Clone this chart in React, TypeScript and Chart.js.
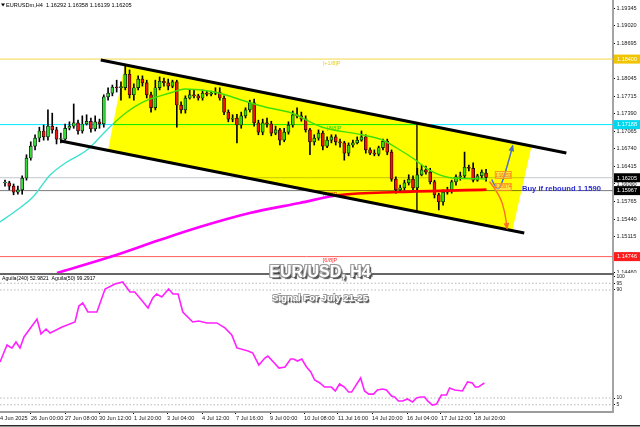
import React, { useEffect, useRef } from 'react';
import { Chart, registerables } from 'chart.js';
Chart.register(...registerables);

// ---------- axis ranges ----------
const X_MIN = -1.164;
const X_MAX = 141.56;
const P_MIN = 1.14443;
const P_MAX = 1.19493;
const IND_MIN = -0.37;
const IND_MAX = 101.11;

// ---------- tick labels ----------
const priceTicks = [1.19345, 1.1902, 1.18695, 1.1837, 1.18045, 1.17715, 1.1739, 1.17065, 1.1674, 1.16415, 1.1609, 1.15765, 1.1544, 1.15115, 1.1479, 1.1446];
const indTicks = [100, 95, 90, 10, 5];
const timeTickPos = [-1.9, 6.05, 13.97, 21.89, 30.03, 37.72, 45.87, 53.78, 61.7, 69.62, 77.53, 85.45, 93.6, 101.5, 109.4];
const timeTickLabels = ['24 Jun 2025', '26 Jun 00:00', '27 Jun 08:00', '30 Jun 12:00', '1 Jul 20:00', '3 Jul 04:00', '4 Jul 12:00', '7 Jul 16:00', '9 Jul 00:00', '10 Jul 08:00', '11 Jul 16:00', '14 Jul 20:00', '16 Jul 04:00', '17 Jul 12:00', '18 Jul 20:00'];

// ---------- candles (EURUSD H4) ----------
const opens = [
  1.1611, 1.1611, 1.1605, 1.1594, 1.1598, 1.1620, 1.1657, 1.1679, 1.1694, 1.1707,
  1.1696, 1.1716, 1.1709, 1.1692, 1.1692, 1.1712, 1.1716, 1.1722, 1.1707, 1.1720,
  1.1725, 1.1711, 1.1724, 1.1720, 1.1770, 1.1777, 1.1788, 1.1787, 1.1787, 1.1812,
  1.1774, 1.1787, 1.1803, 1.1796, 1.1774, 1.1750, 1.1787, 1.1799, 1.1796, 1.1790,
  1.1798, 1.1755, 1.1746, 1.1768, 1.1774, 1.1772, 1.1768, 1.1777, 1.1775, 1.1777,
  1.1779, 1.1768, 1.1742, 1.1729, 1.1731, 1.1718, 1.1735, 1.1746, 1.1759, 1.1722,
  1.1705, 1.1722, 1.1720, 1.1703, 1.1709, 1.1690, 1.1705, 1.1718, 1.1737, 1.1735,
  1.1729, 1.1709, 1.1687, 1.1694, 1.1703, 1.1679, 1.1690, 1.1696, 1.1687, 1.1685,
  1.1666, 1.1681, 1.1685, 1.1690, 1.1696, 1.1672, 1.1666, 1.1664, 1.1676, 1.1688,
  1.1668, 1.1618, 1.1598, 1.1602, 1.1611, 1.1618, 1.1602, 1.1626, 1.1635, 1.1631,
  1.1613, 1.1589, 1.1576, 1.1594, 1.1598, 1.1613, 1.1622, 1.1624, 1.1640, 1.1638,
  1.1616, 1.1624, 1.1629,
];
const highs = [
  1.1616, 1.1614, 1.1609, 1.1605, 1.1624, 1.1663, 1.1687, 1.1700, 1.1714, 1.1718,
  1.1746, 1.1740, 1.1714, 1.1703, 1.1720, 1.1724, 1.1757, 1.1727, 1.1735, 1.1737,
  1.1731, 1.1735, 1.1729, 1.1774, 1.1787, 1.1792, 1.1801, 1.1798, 1.1827, 1.1820,
  1.1794, 1.1809, 1.1809, 1.1801, 1.1779, 1.1801, 1.1807, 1.1805, 1.1803, 1.1801,
  1.1801, 1.1761, 1.1772, 1.1783, 1.1783, 1.1775, 1.1783, 1.1781, 1.1781, 1.1787,
  1.1787, 1.1772, 1.1746, 1.1737, 1.1738, 1.1742, 1.1750, 1.1764, 1.1766, 1.1727,
  1.1729, 1.1731, 1.1725, 1.1716, 1.1712, 1.1712, 1.1724, 1.1744, 1.1750, 1.1742,
  1.1735, 1.1712, 1.1700, 1.1709, 1.1707, 1.1696, 1.1700, 1.1700, 1.1692, 1.1688,
  1.1685, 1.1690, 1.1696, 1.1707, 1.1700, 1.1676, 1.1672, 1.1679, 1.1692, 1.1692,
  1.1672, 1.1622, 1.1607, 1.1616, 1.1626, 1.1624, 1.1638, 1.1644, 1.1642, 1.1638,
  1.1616, 1.1592, 1.1598, 1.1603, 1.1616, 1.1626, 1.1631, 1.1668, 1.1644, 1.1648,
  1.1627, 1.1635, 1.1636,
];
const lows = [
  1.1605, 1.1598, 1.1589, 1.1590, 1.1590, 1.1616, 1.1653, 1.1672, 1.1687, 1.1690,
  1.1690, 1.1703, 1.1683, 1.1685, 1.1690, 1.1709, 1.1712, 1.1701, 1.1703, 1.1718,
  1.1705, 1.1707, 1.1712, 1.1714, 1.1764, 1.1772, 1.1779, 1.1764, 1.1783, 1.1768,
  1.1764, 1.1783, 1.1790, 1.1768, 1.1742, 1.1746, 1.1783, 1.1790, 1.1783, 1.1787,
  1.1714, 1.1740, 1.1740, 1.1766, 1.1768, 1.1764, 1.1764, 1.1772, 1.1772, 1.1774,
  1.1764, 1.1737, 1.1724, 1.1724, 1.1685, 1.1712, 1.1731, 1.1742, 1.1716, 1.1700,
  1.1700, 1.1714, 1.1698, 1.1700, 1.1681, 1.1687, 1.1701, 1.1714, 1.1731, 1.1725,
  1.1705, 1.1663, 1.1681, 1.1690, 1.1672, 1.1676, 1.1685, 1.1681, 1.1677, 1.1653,
  1.1661, 1.1677, 1.1683, 1.1688, 1.1666, 1.1663, 1.1661, 1.1661, 1.1672, 1.1663,
  1.1614, 1.1592, 1.1594, 1.1598, 1.1607, 1.1598, 1.1598, 1.1624, 1.1627, 1.1609,
  1.1583, 1.1561, 1.1570, 1.1590, 1.1592, 1.1607, 1.1616, 1.1620, 1.1633, 1.1613,
  1.1614, 1.1620, 1.1614,
];
const closes = [
  1.1612, 1.1605, 1.1594, 1.1598, 1.1620, 1.1657, 1.1679, 1.1694, 1.1707, 1.1696,
  1.1716, 1.1709, 1.1692, 1.1693, 1.1712, 1.1716, 1.1722, 1.1707, 1.1720, 1.1725,
  1.1711, 1.1724, 1.1720, 1.1770, 1.1777, 1.1788, 1.1787, 1.1789, 1.1812, 1.1774,
  1.1787, 1.1803, 1.1796, 1.1774, 1.1750, 1.1787, 1.1799, 1.1796, 1.1790, 1.1798,
  1.1755, 1.1746, 1.1768, 1.1774, 1.1772, 1.1768, 1.1777, 1.1775, 1.1777, 1.1779,
  1.1768, 1.1742, 1.1729, 1.1731, 1.1718, 1.1735, 1.1746, 1.1759, 1.1722, 1.1705,
  1.1722, 1.1720, 1.1703, 1.1709, 1.1690, 1.1705, 1.1718, 1.1737, 1.1735, 1.1729,
  1.1709, 1.1687, 1.1694, 1.1703, 1.1679, 1.1690, 1.1696, 1.1687, 1.1685, 1.1666,
  1.1681, 1.1685, 1.1690, 1.1696, 1.1672, 1.1666, 1.1664, 1.1676, 1.1688, 1.1668,
  1.1618, 1.1598, 1.1602, 1.1611, 1.1618, 1.1602, 1.1626, 1.1635, 1.1631, 1.1613,
  1.1589, 1.1576, 1.1594, 1.1598, 1.1613, 1.1622, 1.1624, 1.1640, 1.1638, 1.1616,
  1.1624, 1.1631, 1.1621,
];

// ---------- moving averages ----------
const maFastX = [-1.2, 2.8, 6.5, 10.5, 14.4, 19.1, 24.4, 28.4, 32.1, 38.4, 41.9, 48.8, 56.5, 60.5, 66.7, 73.7, 83.3, 87.9, 91.2, 94.9, 98.8, 104.2, 112.1];
const maFastY = [1.15386, 1.15608, 1.15849, 1.16256, 1.16496, 1.16718, 1.17144, 1.17421, 1.17606, 1.17773, 1.17847, 1.17791, 1.17606, 1.17514, 1.17403, 1.17144, 1.16996, 1.16903, 1.16755, 1.1657, 1.16348, 1.162, 1.16182];
const maSlowX = [12.1, 24.4, 36.0, 45.3, 57.0, 68.6, 77.9, 91.9, 112.1];
const maSlowY = [1.14443, 1.14738, 1.15053, 1.15293, 1.15552, 1.15738, 1.15886, 1.15941, 1.15985];

// ---------- horizontal levels ----------
const levelVals = [1.184, 1.17188, 1.16205, 1.15967, 1.14746];
const levelColors = ['#f2d84a', '#00e8ff', '#c2c8ce', '#7c7c7c', '#ff5c5c'];
const levelBoxColors = ['#f0c400', '#00d8f0', '#000000', '#000000', '#ff1c1c'];
const levelBoxTexts = ['1.18400', '1.17188', '1.16205', '1.15967', '1.14746'];
const mmTexts = ['[+1/8]P', '[8/8]P', '[7/8]P', '[6/8]P'];
const mmVals = [1.184, 1.17188, 1.15967, 1.14746];
const mmColors = ['#e8cc20', '#20d8e8', '#ff30ff', '#ff3030'];
const mmLabelX = [74, 75, 74, 74];

// ---------- drawn objects ----------
const upperX = [22.3, 130.7];
const upperY = [1.18383, 1.16663];
const lowerX = [13.0, 120.9];
const lowerY = [1.16885, 1.15183];
const channelX = [27.9, 122.6, 118.1, 24.0];
const channelY = [1.18309, 1.16792, 1.1522, 1.16718];
const vLineX = [95.9, 95.9];
const vLineY = [1.1719, 1.1558];
const upArrowX = [113.4, 114.5, 115.6, 117.0, 118.2];
const upArrowY = [1.16163, 1.1596, 1.16071, 1.16441, 1.16792];
const downArrowX = [112.9, 115.2, 116.4, 116.9];
const downArrowY = [1.16126, 1.15886, 1.15567, 1.15271];
const tagX = [116.0, 116.0];
const tagY = [1.16255, 1.16035];
const tagTexts = ['1.16353', '1.16074'];

// ---------- Aguila indicator ----------
const indX = [-1.16, 0.47, 1.16, 1.63, 2.56, 3.49, 4.42, 7.45, 8.38, 9.55, 10.5, 13.3, 16.3, 17.2, 18.1, 19.3, 21.4, 23.3, 25.6, 27.4, 29.1, 30.2, 31.4, 33.3, 34.4, 35.3, 36.5, 38.1, 39.1, 40.3, 41.4, 43.7, 45.1, 47.0, 49.3, 51.2, 52.8, 54.0, 56.6, 57.7, 59.1, 60.5, 61.2, 63.8, 65.2, 66.5, 67.2, 68.1, 69.1, 70.2, 71.2, 72.1, 73.3, 74.4, 76.0, 76.9, 77.9, 79.0, 80.0, 80.7, 82.8, 83.7, 84.7, 85.8, 86.7, 87.9, 88.8, 90.0, 90.7, 91.6, 92.6, 93.7, 94.9, 95.8, 96.7, 97.7, 98.4, 99.5, 100.5, 101.6, 102.8, 103.5, 104.7, 106.5, 107.7, 108.8, 109.5, 110.2, 111.6];
const indV = [36.7, 49.3, 47.8, 47.1, 51.5, 47.1, 55.2, 68.5, 57.4, 61.1, 58.1, 62.6, 66.3, 78.1, 80.4, 73.7, 73.7, 90.7, 94.4, 95.9, 88.5, 88.5, 84.1, 76.7, 84.1, 87.0, 84.8, 90.7, 87.0, 87.0, 73.7, 66.3, 67.0, 65.6, 65.6, 61.9, 56.7, 47.1, 44.8, 43.3, 34.4, 39.6, 41.1, 32.2, 33.0, 38.9, 38.9, 37.4, 38.9, 33.0, 29.3, 23.3, 21.1, 18.1, 18.1, 15.2, 20.4, 18.1, 14.4, 14.4, 24.8, 15.2, 12.9, 12.9, 15.9, 16.7, 15.9, 11.5, 10.7, 7.8, 7.8, 9.3, 7.0, 10.0, 10.7, 10.7, 7.8, 4.8, 5.6, 12.2, 12.2, 17.4, 15.9, 15.2, 21.9, 21.1, 18.1, 18.1, 21.1];
const indLevels = [95, 90, 10, 5];

const BULL = '#36dc36';
const BEAR = '#ee1515';
const FONT = 'Liberation Sans';

function toXY(xs: number[], ys: number[]) {
  return xs.map((x, i) => ({ x, y: ys[i] }));
}

function drawArrow(ctx: CanvasRenderingContext2D, xs: number[], ys: number[], color: string, xs_: any, ys_: any) {
  const pts = xs.map((v, k) => [xs_.getPixelForValue(v), ys_.getPixelForValue(ys[k])]);
  ctx.save();
  ctx.strokeStyle = color;
  ctx.lineWidth = 1.4;
  ctx.lineJoin = 'round';
  ctx.lineCap = 'round';
  ctx.beginPath();
  ctx.moveTo(pts[0][0], pts[0][1]);
  for (let k = 1; k < pts.length - 1; k++) {
    const mx = (pts[k][0] + pts[k + 1][0]) / 2;
    const my = (pts[k][1] + pts[k + 1][1]) / 2;
    ctx.quadraticCurveTo(pts[k][0], pts[k][1], mx, my);
  }
  const [x2, y2] = pts[pts.length - 1];
  const [x1, y1] = pts[pts.length - 2];
  ctx.lineTo(x2, y2);
  ctx.stroke();
  const a = Math.atan2(y2 - y1, x2 - x1);
  ctx.fillStyle = color;
  ctx.beginPath();
  ctx.moveTo(x2 + 1.5 * Math.cos(a), y2 + 1.5 * Math.sin(a));
  ctx.lineTo(x2 - 6 * Math.cos(a - 0.5), y2 - 6 * Math.sin(a - 0.5));
  ctx.lineTo(x2 - 6 * Math.cos(a + 0.5), y2 - 6 * Math.sin(a + 0.5));
  ctx.closePath();
  ctx.fill();
  ctx.restore();
}

export default function App() {
  const topRef = useRef<HTMLCanvasElement>(null);
  const botRef = useRef<HTMLCanvasElement>(null);

  useEffect(() => {
    document.body.style.margin = '0';
    const idx = opens.map((_, i) => i);

    const levelSets = levelVals.map((v, k) => ({
      type: 'line' as const,
      data: [{ x: X_MIN, y: v }, { x: X_MAX, y: v }],
      borderColor: levelColors[k],
      borderWidth: 1,
      pointRadius: 0,
      order: 20,
    }));

    const topPlugin = {
      id: 'topDecor',
      beforeDatasetsDraw(chart: any) {
        const { ctx, scales } = chart;
        const xs = scales.x, ys = scales.y;
        ctx.save();
        ctx.font = `5.5px "${FONT}"`;
        ctx.textBaseline = 'top';
        ctx.textAlign = 'left';
        mmTexts.forEach((t, k) => {
          ctx.fillStyle = mmColors[k];
          ctx.fillText(t, xs.getPixelForValue(mmLabelX[k]), ys.getPixelForValue(mmVals[k]) + 1.5);
        });
        ctx.restore();
      },
      afterDatasetsDraw(chart: any) {
        const { ctx, scales, chartArea } = chart;
        const xs = scales.x, ys = scales.y;
        ctx.save();
        ctx.beginPath();
        ctx.rect(chartArea.left, chartArea.top, chartArea.right - chartArea.left, chartArea.bottom - chartArea.top);
        ctx.clip();
        ctx.globalCompositeOperation = 'multiply';
        ctx.fillStyle = '#ffff00';
        ctx.beginPath();
        channelX.forEach((v, k) => {
          const px = xs.getPixelForValue(v);
          const py = ys.getPixelForValue(channelY[k]);
          if (k === 0) ctx.moveTo(px, py); else ctx.lineTo(px, py);
        });
        ctx.closePath();
        ctx.fill();
        ctx.restore();
      },
      afterDraw(chart: any) {
        const { ctx, scales } = chart;
        const xs = scales.x, ys = scales.y;
        drawArrow(ctx, upArrowX, upArrowY, '#4a6cc4', xs, ys);
        drawArrow(ctx, downArrowX, downArrowY, '#ff6a28', xs, ys);
        ctx.save();
        // small orange tags
        ctx.font = `4.5px "${FONT}"`;
        ctx.textAlign = 'center';
        ctx.textBaseline = 'middle';
        tagX.forEach((v, k) => {
          const px = xs.getPixelForValue(v);
          const py = ys.getPixelForValue(tagY[k]);
          ctx.fillStyle = 'rgba(255,200,120,0.55)';
          ctx.fillRect(px - 8, py - 3.5, 16, 7);
          ctx.strokeStyle = '#ff8a20';
          ctx.lineWidth = 0.8;
          ctx.strokeRect(px - 8, py - 3.5, 16, 7);
          ctx.fillStyle = '#ff6a00';
          ctx.fillText(tagTexts[k], px, py + 0.3);
        });
        // Buy text
        ctx.font = `bold 7.6px "${FONT}"`;
        ctx.textAlign = 'left';
        ctx.fillStyle = '#2b2bd2';
        ctx.fillText('Buy if rebound 1.1590', 522, ys.getPixelForValue(1.1597) - 1.5);
        // right-axis price boxes
        ctx.font = `5.5px "${FONT}"`;
        ctx.textAlign = 'center';
        levelVals.forEach((v, k) => {
          const py = ys.getPixelForValue(v);
          ctx.fillStyle = levelBoxColors[k];
          ctx.fillRect(614, py - 4.5, 26, 9);
          ctx.fillStyle = '#ffffff';
          ctx.fillText(levelBoxTexts[k], 627, py + 0.3);
        });
        // header
        ctx.textAlign = 'left';
        ctx.textBaseline = 'middle';
        ctx.fillStyle = '#000';
        ctx.font = `5.6px "${FONT}"`;
        ctx.fillText('EURUSDm,H4  1.16292 1.16358 1.16139 1.16205', 6, 5);
        ctx.beginPath();
        ctx.moveTo(1, 3.5); ctx.lineTo(5, 3.5); ctx.lineTo(3, 6.5); ctx.closePath();
        ctx.fill();
        ctx.restore();
      },
    };

    const top = new Chart(topRef.current as HTMLCanvasElement, {
      type: 'bar',
      data: {
        datasets: [
          ...levelSets,
          { type: 'line', data: toXY(vLineX, vLineY), borderColor: '#3a3a3a', borderWidth: 1, pointRadius: 0, order: 19 },
          { type: 'bar', data: idx.map((i) => ({ x: i, y: [lows[i], highs[i]] })), backgroundColor: '#000', barThickness: 1, grouped: false, order: 15 },
          {
            type: 'bar',
            data: idx.map((i) => ({ x: i, y: [opens[i], closes[i]] })),
            backgroundColor: idx.map((i) => (closes[i] >= opens[i] ? BULL : BEAR)),
            borderColor: '#000',
            borderWidth: 0.7,
            borderSkipped: false,
            barThickness: 3,
            grouped: false,
            order: 14,
          },
          { type: 'line', data: toXY(maSlowX, maSlowY), borderColor: '#ff00ff', borderWidth: 2.6, pointRadius: 0, cubicInterpolationMode: 'monotone', order: 12 },
          { type: 'line', data: toXY(maFastX, maFastY), borderColor: '#40e0d0', borderWidth: 1.4, pointRadius: 0, cubicInterpolationMode: 'monotone', order: 11 },
          { type: 'line', data: toXY(upperX, upperY), borderColor: '#000', borderWidth: 3, pointRadius: 0, order: 5 },
          { type: 'line', data: toXY(lowerX, lowerY), borderColor: '#000', borderWidth: 3, pointRadius: 0, order: 5 },
        ] as any,
      },
      options: {
        responsive: false,
        animation: false,
        events: [],
        layout: { padding: 0 },
        plugins: { legend: { display: false }, tooltip: { enabled: false } },
        scales: {
          x: { type: 'linear', min: X_MIN, max: X_MAX, display: false, offset: false, grid: { offset: false } },
          y: {
            type: 'linear',
            position: 'right',
            min: P_MIN,
            max: P_MAX,
            afterBuildTicks: (s: any) => { s.ticks = priceTicks.map((v) => ({ value: v })); },
            afterFit: (s: any) => { s.width = 27; s.paddingTop = 0; s.paddingBottom = 0; },
            ticks: {
              font: { family: FONT, size: 5.6 },
              color: '#202020',
              padding: 1.5,
              callback: (v: any) => Number(v).toFixed(5),
            },
            grid: { drawOnChartArea: false, drawTicks: true, tickLength: 2, tickColor: '#000', color: '#000' },
            border: { display: true, color: '#a4a4a4', width: 2 },
          },
        },
      } as any,
      plugins: [topPlugin],
    });

    const botPlugin = {
      id: 'botDecor',
      afterDraw(chart: any) {
        const { ctx } = chart;
        ctx.save();
        ctx.fillStyle = '#666';
        ctx.fillRect(0, 0, 614, 2);
        ctx.fillStyle = '#2a2a2a';
        ctx.fillRect(0, 152, 640, 1.5);
        ctx.fillStyle = '#000';
        ctx.font = `5.2px "${FONT}"`;
        ctx.textBaseline = 'middle';
        ctx.textAlign = 'left';
        ctx.fillText('Aguila(240) 52.9821  Aguila(50) 99.2917', 2, 6);
        ctx.restore();
      },
    };

    const bot = new Chart(botRef.current as HTMLCanvasElement, {
      type: 'line',
      data: {
        datasets: [
          ...indLevels.map((v) => ({
            data: [{ x: X_MIN, y: v }, { x: X_MAX, y: v }],
            borderColor: '#b8b8b8',
            borderWidth: 1,
            borderDash: [1.5, 2],
            pointRadius: 0,
            order: 5,
          })),
          { data: toXY(indX, indV), borderColor: '#ff22ff', borderWidth: 1.6, pointRadius: 0, tension: 0, order: 1 },
        ],
      },
      options: {
        responsive: false,
        animation: false,
        events: [],
        layout: { padding: { top: 2, left: 0, right: 0, bottom: 0 } },
        plugins: { legend: { display: false }, tooltip: { enabled: false } },
        scales: {
          x: {
            type: 'linear',
            min: X_MIN,
            max: X_MAX,
            offset: false,
            position: 'bottom',
            afterBuildTicks: (s: any) => { s.ticks = timeTickPos.map((v) => ({ value: v })); },
            afterFit: (s: any) => { s.height = 15; s.paddingLeft = 0; s.paddingRight = 0; },
            ticks: {
              align: 'start',
              autoSkip: false,
              maxRotation: 0,
              minRotation: 0,
              padding: 1.5,
              font: { family: FONT, size: 5.6 },
              color: '#202020',
              callback: (_v: any, i: number) => timeTickLabels[i],
            },
            grid: { drawOnChartArea: false, drawTicks: true, tickLength: 2, tickColor: '#000', color: '#000' },
            border: { display: true, color: '#9c9c9c', width: 2 },
          },
          y: {
            type: 'linear',
            position: 'right',
            min: IND_MIN,
            max: IND_MAX,
            afterBuildTicks: (s: any) => { s.ticks = indTicks.map((v) => ({ value: v })); },
            afterFit: (s: any) => { s.width = 27; s.paddingTop = 0; s.paddingBottom = 0; },
            ticks: { font: { family: FONT, size: 5 }, color: '#202020', padding: 1.5, autoSkip: false },
            grid: { drawOnChartArea: false, drawTicks: true, tickLength: 2, tickColor: '#000', color: '#000' },
            border: { display: true, color: '#a4a4a4', width: 2 },
          },
        },
      } as any,
      plugins: [botPlugin],
    });

    return () => {
      top.destroy();
      bot.destroy();
    };
  }, []);

  const shadow = '-1px -1px 0 #9a9a9a, 1px -1px 0 #9a9a9a, -1px 1px 0 #9a9a9a, 1px 1px 0 #555, 2px 2px 1px #444';
  return (
    <div style={{ position: 'absolute', left: 0, top: 0, width: 640, height: 427, background: '#fff', overflow: 'hidden' }}>
      <canvas ref={topRef} width={640} height={273} style={{ position: 'absolute', left: 0, top: 0 }} />
      <canvas ref={botRef} width={640} height={154} style={{ position: 'absolute', left: 0, top: 273 }} />
      <div style={{ position: 'absolute', left: 0, width: 640, top: 263, textAlign: 'center', font: `bold 16px "${FONT}"`, lineHeight: '18px', color: '#fff', textShadow: shadow, whiteSpace: 'nowrap' }}>
        EUR/USD, H4
      </div>
      <div style={{ position: 'absolute', left: 0, width: 640, top: 292, textAlign: 'center', font: `bold 9.6px "${FONT}"`, lineHeight: '12px', color: '#fff', textShadow: '-0.6px -0.6px 0 #999, 0.6px -0.6px 0 #999, -0.6px 0.6px 0 #999, 1px 1px 0 #555, 1.5px 1.5px 1px #444', whiteSpace: 'nowrap' }}>
        Signal For July 21-25
      </div>
    </div>
  );
}
